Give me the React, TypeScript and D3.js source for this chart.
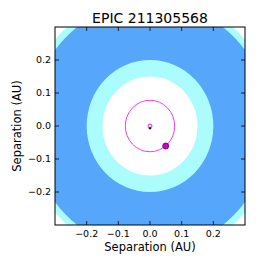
import React from "react";
import * as d3 from "d3";

const title = "EPIC 211305568";
const xLabel = "Separation (AU)";
const yLabel = "Separation (AU)";
const domain = [-0.3, 0.3];
const tickValues = [-0.2, -0.1, 0.0, 0.1, 0.2];
// habitable zone boundaries (AU)
const zoneRadii = [0.398, 0.378, 0.2, 0.15];
const zoneColors = ["#abfcfc", "#56a7fc", "#abfcfc", "#ffffff"];
const orbitRadius = 0.078;
const planetPos = [0.0496, -0.0606];
const starPos = [0.0, 0.0];
const companionPos = [0.0, -0.007];

const W = 266;
const H = 266;
const L = 55, R = 245, T = 27, B = 225;

export default function App() {
  const x = d3.scaleLinear().domain(domain).range([L, R]);
  const y = d3.scaleLinear().domain(domain).range([B, T]);
  const fmt = (v: number) => {
    const s = d3.format(".1f")(Math.abs(v));
    return v < 0 ? "\u2212" + s : s;
  };
  const font = "DejaVu Sans, sans-serif";
  return (
    <svg width={W} height={H} style={{ position: "absolute", left: 0, top: 0 }} fontFamily={font}>
      <rect x={0} y={0} width={W} height={H} fill="#fff" />
      <defs>
        <clipPath id="ax">
          <rect x={L} y={T} width={R - L} height={B - T} />
        </clipPath>
      </defs>
      <g clipPath="url(#ax)">
        {zoneRadii.map((r, i) => (
          <ellipse
            key={i}
            cx={x(0)}
            cy={y(0)}
            rx={x(r) - x(0)}
            ry={y(0) - y(r)}
            fill={zoneColors[i]}
          />
        ))}
        <ellipse
          cx={x(0)}
          cy={y(0)}
          rx={x(orbitRadius) - x(0)}
          ry={y(0) - y(orbitRadius)}
          fill="none"
          stroke="#f040f0"
          strokeWidth={1}
        />
        <circle cx={x(starPos[0])} cy={y(starPos[1])} r={2} fill="#f4c8f4" stroke="#cc44cc" strokeWidth={1} />
        <circle cx={x(companionPos[0])} cy={y(companionPos[1])} r={1.2} fill="#550055" />
        <circle cx={x(planetPos[0])} cy={y(planetPos[1])} r={3} fill="#cc00cc" stroke="#660066" strokeWidth={0.8} />
      </g>
      <rect x={L} y={T} width={R - L} height={B - T} fill="none" stroke="#000" strokeWidth={1} />
      {tickValues.map((v, i) => (
        <g key={"x" + i}>
          <line x1={x(v)} x2={x(v)} y1={B} y2={B - 4} stroke="#000" strokeWidth={0.8} />
          <line x1={x(v)} x2={x(v)} y1={T} y2={T + 4} stroke="#000" strokeWidth={0.8} />
          <text x={x(v)} y={B + 11.5} textAnchor="middle" fontSize={9.5} fill="#000">{fmt(v)}</text>
        </g>
      ))}
      {tickValues.map((v, i) => (
        <g key={"y" + i}>
          <line x1={L} x2={L + 4} y1={y(v)} y2={y(v)} stroke="#000" strokeWidth={0.8} />
          <line x1={R} x2={R - 4} y1={y(v)} y2={y(v)} stroke="#000" strokeWidth={0.8} />
          <text x={L - 4} y={y(v) + 3.4} textAnchor="end" fontSize={9.5} fill="#000">{fmt(v)}</text>
        </g>
      ))}
      <text x={(L + R) / 2} y={23} textAnchor="middle" fontSize={14} fill="#000">{title}</text>
      <text x={(L + R) / 2} y={250.5} textAnchor="middle" fontSize={11.5} fill="#000">{xLabel}</text>
      <text transform={`translate(21,${(T + B) / 2}) rotate(-90)`} textAnchor="middle" fontSize={11.5} fill="#000">{yLabel}</text>
    </svg>
  );
}
